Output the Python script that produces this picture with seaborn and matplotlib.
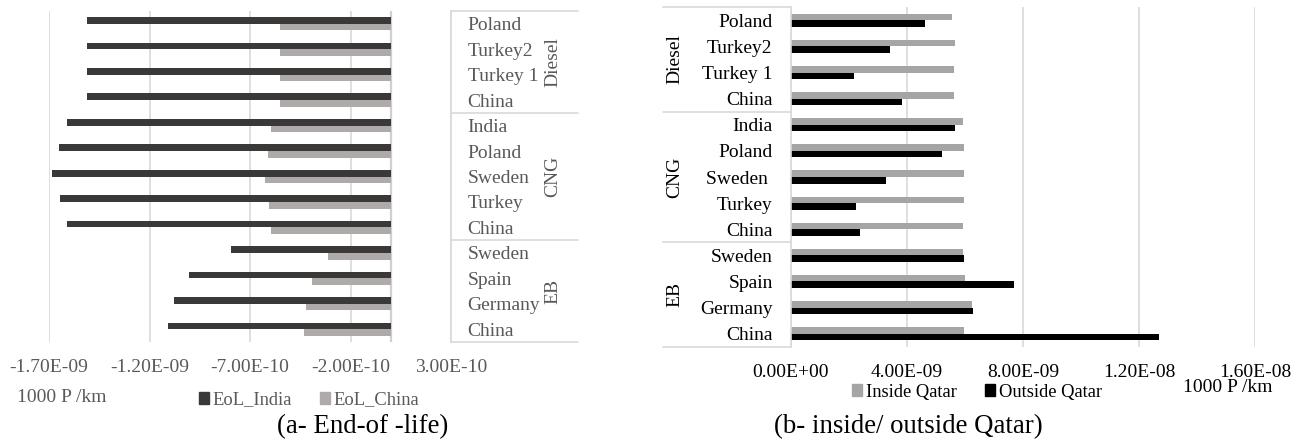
import matplotlib
matplotlib.use("Agg")
import matplotlib.pyplot as plt
import matplotlib.transforms as mtransforms
from matplotlib.patches import Patch
import seaborn as sns
import pandas as pd

# ---- data ----
groups = ["Diesel"] * 4 + ["CNG"] * 5 + ["EB"] * 4
countries_a = ["Poland", "Turkey2", "Turkey 1", "China",
               "India", "Poland", "Sweden", "Turkey", "China",
               "Sweden", "Spain", "Germany", "China"]
countries_b = ["Poland", "Turkey2", "Turkey 1", "China",
               "India", "Poland", "Sweden ", "Turkey", "China",
               "Sweden", "Spain", "Germany", "China"]

eol_india = [-1.51e-9, -1.51e-9, -1.51e-9, -1.51e-9,
             -1.61e-9, -1.65e-9, -1.685e-9, -1.643e-9, -1.609e-9,
             -7.96e-10, -1.004e-9, -1.079e-9, -1.109e-9]
eol_china = [-5.53e-10, -5.53e-10, -5.53e-10, -5.53e-10,
             -5.94e-10, -6.11e-10, -6.26e-10, -6.07e-10, -5.94e-10,
             -3.13e-10, -3.90e-10, -4.19e-10, -4.32e-10]

inside_qatar = [5.56e-9, 5.66e-9, 5.61e-9, 5.61e-9,
                5.92e-9, 5.97e-9, 5.97e-9, 5.97e-9, 5.92e-9,
                5.93e-9, 6.00e-9, 6.24e-9, 5.96e-9]
outside_qatar = [4.62e-9, 3.42e-9, 2.20e-9, 3.82e-9,
                 5.67e-9, 5.23e-9, 3.27e-9, 2.26e-9, 2.40e-9,
                 5.97e-9, 7.68e-9, 6.28e-9, 1.27e-8]

ticks_a = [-1.7e-9, -1.2e-9, -7e-10, -2e-10, 3e-10]
ticklabels_a = ["-1.70E-09", "-1.20E-09", "-7.00E-10", "-2.00E-10", "3.00E-10"]
ticks_b = [0, 4e-9, 8e-9, 1.2e-8, 1.6e-8]
ticklabels_b = ["0.00E+00", "4.00E-09", "8.00E-09", "1.20E-08", "1.60E-08"]

series_a = ["EoL_India", "EoL_China"]
series_b = ["Inside Qatar", "Outside Qatar"]
colors_a = ["#3B3838", "#AEAAAA"]
colors_b = ["#A5A5A5", "#000000"]

# ---- style ----
sns.set_style("white")
plt.rcParams["font.family"] = ["Liberation Serif", "DejaVu Serif"]

W, H = 1304, 444
fig = plt.figure(figsize=(W / 100, H / 100), dpi=100)


def px_axes(x0, y0, x1, y1):
    return fig.add_axes([x0 / W, 1 - y1 / H, (x1 - x0) / W, (y1 - y0) / H])


rows = [f"{i:02d}" for i in range(len(groups))]
n = len(rows)


def long_frame(values1, values2, names):
    return pd.DataFrame({
        "row": rows * 2,
        "value": list(values1) + list(values2),
        "series": [names[0]] * n + [names[1]] * n,
    })


GRID = "#D9D9D9"
GREY_TXT = "#595959"
FS = 14
LEG_FS = 13.3
CAP_FS = 19.3

# ---- (a) End-of-life ----
ax1 = px_axes(49, 11, 451, 342)
sns.barplot(data=long_frame(eol_india, eol_china, series_a), x="value", y="row",
            hue="series", hue_order=series_a, order=rows, orient="h",
            palette=colors_a, saturation=1, width=0.52, linewidth=0,
            errorbar=None, legend=False, ax=ax1)
ax1.set_ylim(n - 0.5, -0.5)
ax1.set_xlim(ticks_a[0], ticks_a[-1])
ax1.set_xticks(ticks_a)
ax1.set_xticklabels(ticklabels_a, fontsize=FS, color=GREY_TXT)
ax1.set_yticks([])
ax1.set_xlabel("")
ax1.set_ylabel("")
ax1.tick_params(axis="x", length=0, pad=12.5)
ax1.grid(axis="x", color=GRID, linewidth=1.2)
ax1.set_axisbelow(True)
for side in ["top", "bottom", "left"]:
    ax1.spines[side].set_visible(False)
ax1.spines["right"].set_color(GRID)
ax1.spines["right"].set_linewidth(1.2)
ax1.axvline(0, color="#D0D0D0", linewidth=1.6, zorder=0.5)

tr1 = mtransforms.blended_transform_factory(ax1.transAxes, ax1.transData)
box_right = (578 - 49) / (451 - 49)
for yv in [-0.5, 3.5, 8.5, n - 0.5]:
    ax1.plot([1, box_right], [yv, yv], transform=tr1, color=GRID,
             linewidth=1.2, clip_on=False)
for i, name in enumerate(countries_a):
    ax1.text((467.7 - 49) / 402, i, name, transform=tr1, ha="left",
             va="center_baseline", fontsize=FS, color=GREY_TXT)
for name, yc in [("Diesel", 1.5), ("CNG", 6.0), ("EB", 10.5)]:
    ax1.text((552.5 - 49) / 402, yc, name, transform=tr1, ha="center",
             va="center", rotation=90, fontsize=FS, color=GREY_TXT)

fig.text(62 / W, 1 - 398 / H, "1000 P /km", ha="center", va="center",
         fontsize=FS, color=GREY_TXT)
fig.legend(handles=[Patch(color=c, label=s) for c, s in zip(colors_a, series_a)],
           loc="center", bbox_to_anchor=(309 / W, 1 - 400 / H), ncol=2,
           frameon=False, fontsize=LEG_FS, labelcolor=GREY_TXT,
           handlelength=0.55, handleheight=0.55, handletextpad=0.2,
           columnspacing=1.5)
fig.text(363 / W, 1 - 427 / H, "(a- End-of -life)", ha="center", va="center",
         fontsize=CAP_FS, color="black")

# ---- (b) inside / outside Qatar ----
ax2 = px_axes(790.6, 7.3, 1255.3, 346.7)
sns.barplot(data=long_frame(inside_qatar, outside_qatar, series_b), x="value",
            y="row", hue="series", hue_order=series_b, order=rows, orient="h",
            palette=colors_b, saturation=1, width=0.5, linewidth=0,
            errorbar=None, legend=False, ax=ax2)
ax2.set_ylim(n - 0.5, -0.5)
ax2.set_xlim(ticks_b[0], ticks_b[-1])
ax2.set_xticks(ticks_b)
ax2.set_xticklabels(ticklabels_b, fontsize=FS, color="black")
ax2.set_yticks([])
ax2.set_xlabel("")
ax2.set_ylabel("")
ax2.tick_params(axis="x", length=0, pad=12.5)
ax2.grid(axis="x", color=GRID, linewidth=1.2)
ax2.set_axisbelow(True)
for side in ["top", "bottom", "right"]:
    ax2.spines[side].set_visible(False)
ax2.spines["left"].set_color(GRID)
ax2.spines["left"].set_linewidth(1.2)

tr2 = mtransforms.blended_transform_factory(ax2.transAxes, ax2.transData)
box_left = (663.3 - 790.6) / (1255.3 - 790.6)
for yv in [-0.5, 3.5, 8.5, n - 0.5]:
    ax2.plot([box_left, 0], [yv, yv], transform=tr2, color=GRID,
             linewidth=1.2, clip_on=False)
for i, name in enumerate(countries_b):
    ax2.text((772.7 - 790.6) / 464.7, i, name, transform=tr2, ha="right",
             va="center_baseline", fontsize=FS, color="black")
for name, yc in [("Diesel", 1.5), ("CNG", 6.0), ("EB", 10.5)]:
    ax2.text((675 - 790.6) / 464.7, yc, name, transform=tr2, ha="center",
             va="center", rotation=90, fontsize=FS, color="black")

fig.legend(handles=[Patch(color=c, label=s) for c, s in zip(colors_b, series_b)],
           loc="center", bbox_to_anchor=(977 / W, 1 - 392 / H), ncol=2,
           frameon=False, fontsize=LEG_FS, labelcolor="black",
           handlelength=0.55, handleheight=0.55, handletextpad=0.2,
           columnspacing=1.5)
fig.text(1228 / W, 1 - 388 / H, "1000 P /km", ha="center", va="center",
         fontsize=FS, color="black")
fig.text(908 / W, 1 - 427 / H, "(b- inside/ outside Qatar)", ha="center",
         va="center", fontsize=CAP_FS, color="black")

fig.savefig("out.png", dpi=100, facecolor="white")
